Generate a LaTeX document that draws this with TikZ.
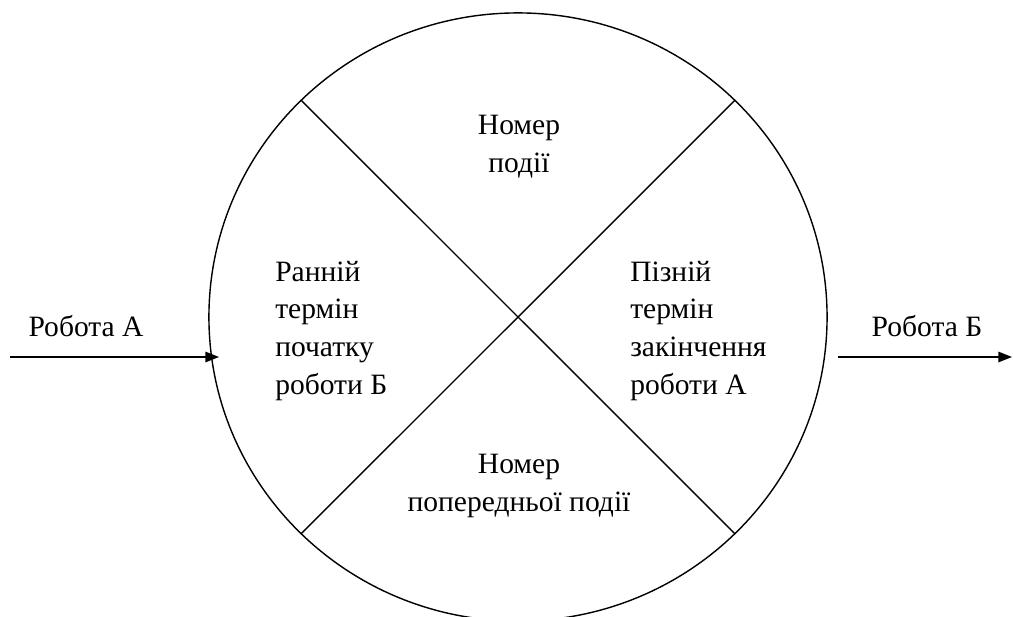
\documentclass[tikz,border=0pt]{standalone}
\usepackage{fontspec}
\setmainfont{Liberation Serif}
\newfontfamily\diagfont{Liberation Serif}
\usepackage{tikz}
\usetikzlibrary{arrows.meta,positioning,shapes.geometric}

\begin{document}
\begin{tikzpicture}[
  x=0.025cm, y=-0.025cm,
  event/.style={draw, ellipse, line width=1pt, inner sep=0pt, outer sep=0pt, minimum width=15.45cm, minimum height=15.2cm},
  sector/.style={line width=1pt},
  txt/.style={inner sep=0pt, font=\diagfont\fontsize{21}{27}\selectfont},
  arr/.style={-{Triangle[length=0.34cm, width=0.26cm]}, line width=1.2pt}
]
  \useasboundingbox (0,0) rectangle (1013,617);

  \node[event] (event) at (518,317) {};
  \draw[sector] (event.135) -- (event.-45);
  \draw[sector] (event.45) -- (event.-135);

  \node[txt, align=center] (number) at (519,147) {Номер\\події};
  \node[txt, align=left, anchor=west] (early) at (275,331) {Ранній\\термін\\початку\\роботи Б};
  \node[txt, align=left, anchor=west] (late) at (630,331) {Пізній\\термін\\закінчення\\роботи А};
  \node[txt, align=center] (prev) at (519,486) {Номер\\попередньої події};

  \coordinate (inStart) at (10,357);
  \coordinate (inEnd) at (219,357);
  \coordinate (outStart) at (838,357);
  \coordinate (outEnd) at (1012,357);
  \node[txt] (workA) at (86,326) {Робота А};
  \node[txt] (workB) at (927,326) {Робота Б};

  \draw[arr] (inStart) -- (inEnd);
  \draw[arr] (outStart) -- (outEnd);
\end{tikzpicture}
\end{document}
